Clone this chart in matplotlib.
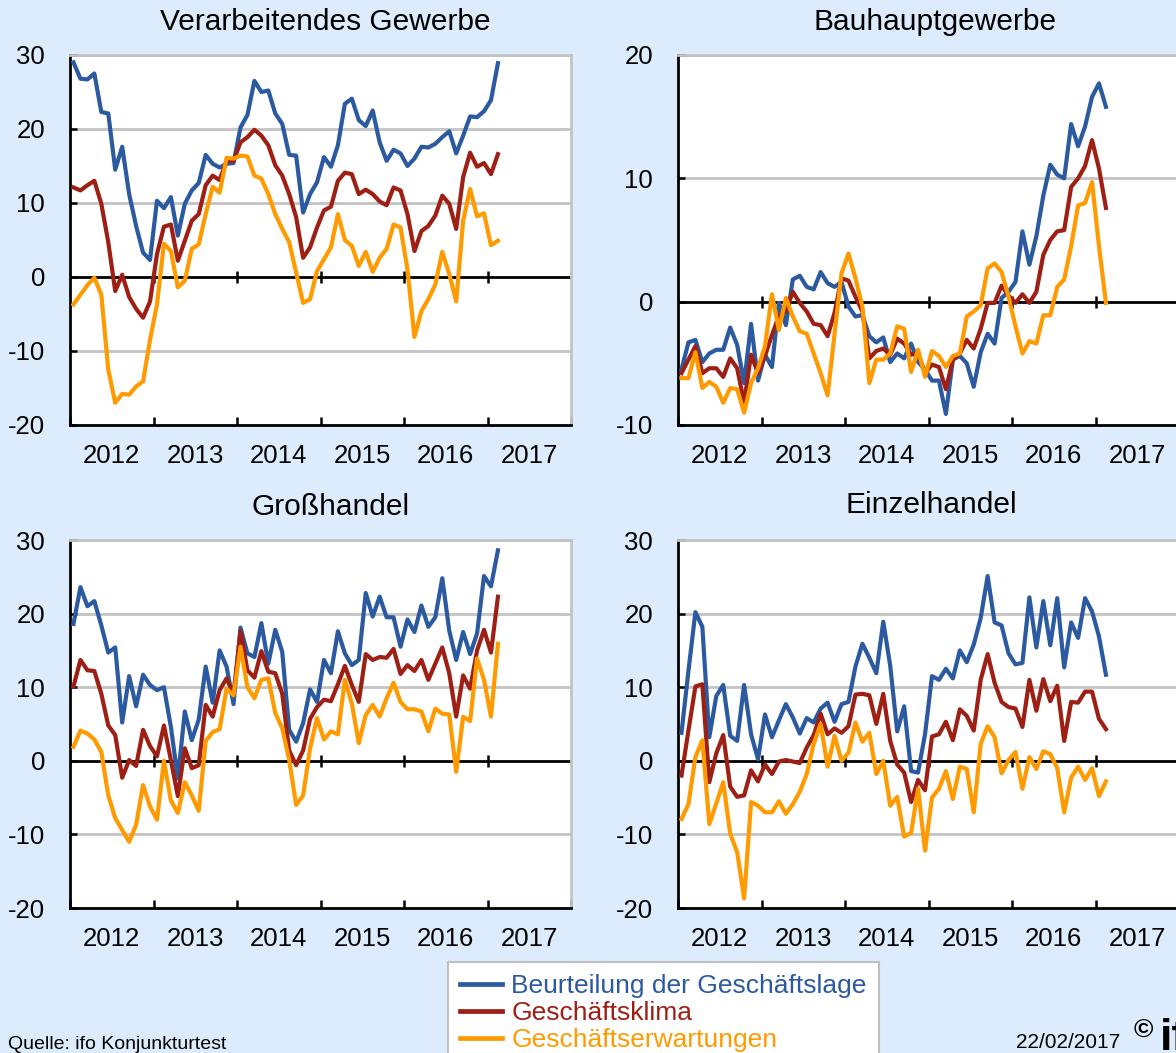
import matplotlib
matplotlib.use("Agg")
import matplotlib.pyplot as plt
import numpy as np
import pandas as pd
from matplotlib.lines import Line2D

plt.rcParams['font.family'] = ['Liberation Sans', 'DejaVu Sans']

# ---------------- data (monthly, Jan 2012 - Feb 2017) ----------------
months = pd.period_range("2012-01", "2017-02", freq="M")
year_labels = ["2012", "2013", "2014", "2015", "2016", "2017"]

# Verarbeitendes Gewerbe
vg_lage = [29, 26.8, 26.7, 27.5, 22.3, 22.1, 14.5, 17.6, 11.2, 6.9, 3.3, 2.3,
           10.3, 9.3, 10.8, 5.6, 9.9, 11.7, 12.7, 16.5, 15.3, 14.8, 15.3, 15.4,
           20.2, 21.9, 26.5, 25, 25.2, 22.1, 20.7, 16.5, 16.4, 8.7, 11.2, 12.8,
           16.2, 14.9, 17.8, 23.4, 24.1, 21.2, 20.4, 22.5, 18.2, 15.7, 17.2, 16.7,
           15, 16, 17.6, 17.5, 18, 18.9, 19.7, 16.7, 19.1, 21.7, 21.6, 22.4,
           23.9, 28.9]
vg_klima = [12.1, 11.7, 12.4, 13, 9.9, 4.7, -1.9, 0.3, -2.7, -4.3, -5.5, -3.3,
            3.1, 6.8, 7.1, 2.2, 4.9, 7.6, 8.5, 12.4, 13.7, 13.1, 15.7, 15.7,
            18.2, 18.9, 19.9, 19.1, 17.8, 15.1, 13.7, 11.2, 8.1, 2.6, 4, 6.7,
            9, 9.5, 13, 14.1, 13.9, 11.2, 11.8, 11.2, 10.2, 9.7, 12.1, 11.7,
            8.5, 3.5, 6.2, 6.9, 8.3, 11, 9.9, 6.5, 13.5, 16.8, 14.9, 15.4,
            13.9, 16.6]
vg_erw = [-3.7, -2.4, -1.1, -0.1, -2.4, -12.5, -17, -15.8, -15.9, -14.8, -14.1, -8.5,
          -3.7, 4.5, 3.5, -1.4, -0.5, 3.8, 4.4, 8.5, 12.2, 11.4, 16.1, 16,
          16.4, 16.3, 13.7, 13.3, 11.2, 8.5, 6.5, 4.7, 0.6, -3.5, -3, 0.8,
          2.4, 4, 8.5, 5, 4.2, 1.5, 3.4, 0.7, 2.6, 3.8, 7.1, 6.7,
          1, -8.1, -4.6, -3, -1, 3.4, 0.4, -3.3, 7.6, 11.9, 8.2, 8.6,
          4.3, 4.9]

# Bauhauptgewerbe
bau_lage = [-5.5, -3.3, -3.1, -4.9, -4.2, -3.9, -3.9, -2.1, -3.5, -6.6, -1.8, -6.4,
            -4.3, -5.3, -0.1, -1.9, 1.8, 2.1, 1.2, 1, 2.4, 1.5, 1.2, 1.6,
            -0.4, -1.2, -1.1, -2.8, -3.3, -2.9, -4.9, -4.2, -4.6, -3.4, -4.9, -5.5,
            -6.4, -6.4, -9.1, -4.7, -4.4, -5, -6.9, -4.1, -2.6, -3.4, 0.3, 0.8,
            1.6, 5.7, 3, 5.3, 8.6, 11.1, 10.3, 10, 14.4, 12.6, 14.2, 16.6,
            17.7, 15.8]
bau_klima = [-5.8, -4.7, -3.6, -5.8, -5.4, -5.4, -6.1, -4.6, -5.4, -8.2, -4.3, -5.8,
             -4.4, -2.7, -1.2, -0.8, 0.8, -0.1, -0.8, -1.8, -1.9, -2.8, -0.9, 1.9,
             1.7, 0.4, -0.8, -4.6, -4, -3.8, -4.3, -3, -3.4, -4.3, -4.2, -5.8,
             -5.1, -5.3, -7.1, -4.7, -4.2, -3.1, -3.8, -2.2, -0.1, -0.1, 1.3, 0.5,
             -0.1, 0.6, -0.1, 0.8, 3.8, 5, 5.7, 5.8, 9.3, 10, 11, 13.1,
             10.8, 7.6]
bau_erw = [-6.2, -6.2, -4.1, -7, -6.5, -6.9, -8.2, -7, -7.1, -9, -6.6, -5.4,
           -3.6, 0.6, -2.3, 0.3, -1.2, -2.4, -2.6, -4.2, -5.8, -7.6, -2.6, 2.3,
           3.9, 1.9, -0.4, -6.6, -4.7, -4.7, -4.2, -2, -2.2, -5.7, -3.9, -6.1,
           -4, -4.4, -5.3, -4.4, -4.2, -1.2, -0.8, -0.3, 2.7, 3.1, 2.4, 0.4,
           -2, -4.2, -3.2, -3.4, -1.1, -1.1, 1.2, 1.8, 4.5, 7.8, 8, 9.7,
           4.5, -0.1]

# Großhandel
gh_lage = [18.6, 23.6, 21, 21.7, 18.4, 14.7, 15.4, 5.2, 11.5, 7.4, 11.7, 10.3,
           9.6, 10, 4.6, -2.4, 6.7, 2.8, 5.6, 12.8, 7.9, 15, 12.8, 7.7,
           18.1, 14.6, 14.1, 18.7, 13.2, 17.8, 14.8, 4.2, 2.6, 5.1, 9.7, 8,
           13.7, 11.9, 17.6, 14.6, 13, 13.7, 22.8, 19.6, 22.3, 19.5, 19.5, 15.5,
           19.2, 17.5, 21.1, 18.2, 19.5, 24.8, 17.7, 13.7, 17.5, 14.5, 17.3, 25.1,
           23.7, 28.6]
gh_klima = [10.1, 13.7, 12.3, 12.2, 9.1, 4.8, 3.5, -2.3, 0.1, -0.7, 4.2, 2,
            0.6, 4.8, 0.1, -4.8, 1.7, -1, -0.6, 7.6, 6, 9.6, 11.2, 9.1,
            17.6, 12.3, 11.3, 14.9, 12.1, 11.9, 9.1, 1.4, -0.6, 1.4, 5.7, 7.3,
            8.3, 8.1, 10.4, 12.9, 10.3, 8, 14.5, 13.7, 14.1, 14, 15.2, 11.8,
            13, 12.2, 13.7, 11, 13.2, 15.4, 11.9, 6, 11.6, 9.8, 15, 17.8,
            14.7, 22.3]
gh_erw = [1.9, 4.1, 3.7, 2.9, 1.2, -4.7, -7.8, -9.4, -11, -8.7, -3.3, -6.2,
          -8, 0, -5.4, -7.1, -2.9, -4.7, -6.8, 2.7, 3.9, 4.3, 9.8, 8.9,
          15.5, 10, 8.5, 11, 11.2, 6.5, 4.4, 0.1, -6, -4.7, 1.7, 5.8,
          2.9, 4, 3.6, 11, 7.8, 2.4, 6.2, 7.6, 6, 8.5, 10.6, 8,
          7, 7, 6.7, 4, 7.1, 6.4, 6.3, -1.5, 6, 5.4, 13.9, 11,
          6, 15.9]

# Einzelhandel
eh_lage = [3.8, 12.2, 20.2, 18.2, 3.2, 8.8, 10.3, 3.4, 2.7, 10.3, 3.6, 0.2,
           6.3, 3.2, 5.5, 7.7, 5.9, 3.7, 5.8, 5.2, 7.1, 7.9, 5.3, 7.7,
           8, 12.8, 15.9, 14, 11.9, 18.9, 12.9, 4, 7.4, -1.4, -1.6, 3.6,
           11.5, 11, 12.5, 11.2, 15, 13.4, 15.8, 19.4, 25.1, 18.8, 18.4, 14.6,
           13.1, 13.3, 22.2, 15.4, 21.7, 15.7, 22.1, 12.7, 18.8, 16.7, 22.1, 20.3,
           16.9, 11.7]
eh_klima = [-2, 4.1, 10.1, 10.4, -2.9, 1, 3.5, -3.5, -4.9, -4.7, -1.3, -2.8,
            -0.5, -1.8, -0.1, 0.1, -0.1, -0.3, 1.8, 3.5, 6.4, 3.6, 4.4, 3.8,
            4.7, 9, 9.1, 8.9, 5, 9.1, 2.7, -0.5, -1.6, -5.6, -2.6, -4,
            3.3, 3.6, 5.3, 2.8, 7, 6.1, 4.1, 11, 14.5, 10.6, 8, 7.3,
            7.1, 4.6, 11, 6.8, 11.1, 8.1, 10.2, 2.7, 8, 7.9, 9.4, 9.4,
            5.7, 4.3]
eh_erw = [-7.9, -5.9, 0.5, 2.8, -8.6, -5.8, -2.9, -9.9, -12.4, -18.7, -5.6, -6.1,
          -7, -7, -5.5, -7.2, -5.9, -4.2, -1.8, 2.3, 5, -0.8, 3.4, 0,
          1.1, 5.2, 2.6, 3.8, -1.8, 0, -6.1, -4.9, -10.3, -9.8, -3.8, -12.2,
          -5, -3.8, -1.4, -5.2, -0.8, -1.1, -7, 2.3, 4.7, 3.2, -1.7, 0.1,
          1.2, -3.8, 0.5, -1.1, 1.3, 0.9, -1, -7, -2.3, -0.8, -2.6, -1,
          -4.8, -2.8]

panels = [
    ("Verarbeitendes Gewerbe", vg_lage, vg_klima, vg_erw, (-20, 30), [-20, -10, 0, 10, 20, 30]),
    ("Bauhauptgewerbe", bau_lage, bau_klima, bau_erw, (-10, 20), [-10, 0, 10, 20]),
    ("Großhandel", gh_lage, gh_klima, gh_erw, (-20, 30), [-20, -10, 0, 10, 20, 30]),
    ("Einzelhandel", eh_lage, eh_klima, eh_erw, (-20, 30), [-20, -10, 0, 10, 20, 30]),
]
series_names = ["Beurteilung der Geschäftslage", "Geschäftsklima", "Geschäftserwartungen"]
colors = ["#2C5AA0", "#9E1F14", "#FF9A00"]

# ---------------- figure ----------------
W, H = 1176, 1053
bg = "#DDECFC"
fig = plt.figure(figsize=(W / 100, H / 100), dpi=100, facecolor=bg)

x = np.array([p.year + (p.month - 0.5) / 12 for p in months])
years = np.arange(2012, 2019)
mid = years[:-1] + 0.5

# axes rectangles in pixels: left, top, right, bottom ; title centre (x, y)
rects = [(70, 55, 571, 425), (678, 55, 1179, 425),
         (70, 540, 571, 908), (678, 540, 1179, 908)]
title_pos = [(325, 22), (935, 22), (331, 507), (931, 505)]
grid_col = "#C3C3C3"

for (title, s1, s2, s3, ylim, yticks), (l, t, r, b), (tx, ty) in zip(panels, rects, title_pos):
    ax = fig.add_axes([l / W, 1 - b / H, (r - l) / W, (b - t) / H])
    ax.set_facecolor("white")
    ax.set_xlim(2012, 2018)
    ax.set_ylim(*ylim)
    for v in yticks:
        if v not in (0, ylim[0]):
            ax.axhline(v, color=grid_col, lw=2.0, zorder=1)
    ax.axhline(0, color="black", lw=2.0, zorder=2)
    d = (ylim[1] - ylim[0]) * 6.0 / ((b - t))
    ax.vlines(years[1:-1], -d, d, color="black", lw=1.8, zorder=2)
    for s, c in zip((s1, s2, s3), colors):
        ax.plot(x, s, color=c, lw=3.0, solid_joinstyle="round", zorder=3)

    for side in ("top", "right"):
        ax.spines[side].set_color(grid_col)
        ax.spines[side].set_linewidth(2.0)
    for side in ("left", "bottom"):
        ax.spines[side].set_color("black")
        ax.spines[side].set_linewidth(2.0)

    ax.set_yticks(yticks)
    ax.set_yticklabels([str(v) for v in yticks])
    ax.tick_params(axis="y", direction="in", length=5, width=1.8, pad=18,
                   labelsize=18.5)
    ax.set_xticks(years)
    ax.set_xticklabels([])
    ax.tick_params(axis="x", which="major", direction="in", length=6, width=1.8)
    ax.set_xticks(mid, minor=True)
    ax.set_xticklabels(year_labels, minor=True)
    ax.tick_params(axis="x", which="minor", length=0, pad=14, labelsize=18.5)
    fig.text(tx / W, 1 - ty / H, title, fontsize=21.5, ha="center", va="center")

handles = [Line2D([], [], color=c, lw=3.4) for c in colors]
leg = fig.legend(handles, series_names, loc="upper left",
                 bbox_to_anchor=(448 / W, 1 - 962 / H), borderaxespad=0,
                 frameon=True, fancybox=False, edgecolor="#C0C0C0",
                 facecolor="white", fontsize=19, handlelength=1.6,
                 handletextpad=0.35, labelspacing=0.12, borderpad=0.45,
                 labelcolor="linecolor", framealpha=1)
leg.get_frame().set_linewidth(1.5)

fig.text(8 / W, 1 - 1049 / H, "Quelle: ifo Konjunkturtest", fontsize=14,
         ha="left", va="baseline")
fig.text(1120 / W, 1 - 1048 / H, "22/02/2017", fontsize=15, ha="right",
         va="baseline")
fig.text(1134 / W, 1 - 1038 / H, "©", fontsize=19, fontweight="bold",
         ha="left", va="baseline")
fig.text(1160 / W, 1 - 1050 / H, "ifo", fontsize=32, fontweight="bold",
         ha="left", va="baseline")

fig.savefig("out.png", dpi=100, facecolor=bg)
